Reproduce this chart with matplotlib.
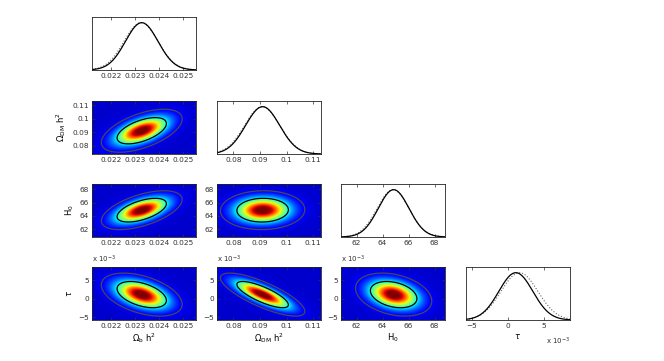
import numpy as np
import matplotlib.pyplot as plt

# parameters of the triangle plot
labels = [r'$\Omega_{\rm b}\ {\rm h}^2$', r'$\Omega_{\rm DM}\ {\rm h}^2$', r'${\rm H}_0$', r'$\tau$']
means = [0.02328, 0.0910, 64.85, 1.1]          # tau in units of 1e-3
sigmas = [0.00068, 0.0064, 1.18, 2.35]
# dotted curves (mean likelihood)
dot_means = [0.02325, 0.0908, 64.80, 1.6]
dot_sigmas = [0.00071, 0.0066, 1.22, 2.55]
corr = [[1.00, 0.55, 0.55, -0.45],
        [0.55, 1.00, 0.03, -0.78],
        [0.55, 0.03, 1.00, -0.30],
        [-0.45, -0.78, -0.30, 1.00]]
lims = [(0.0212, 0.02555), (0.0738, 0.1130), (60.8, 68.8), (-5.8, 8.6)]
ticks = [[0.022, 0.023, 0.024, 0.025],
         [0.08, 0.09, 0.1, 0.11],
         [62, 64, 66, 68],
         [-5, 0, 5]]
ticklabels = [['0.022', '0.023', '0.024', '0.025'],
              ['0.08', '0.09', '0.1', '0.11'],
              ['62', '64', '66', '68'],
              ['\u22125', '0', '5']]

# chi2 levels of 68% and 95% regions in 2D
chi2_levels = [2.30, 6.17]

W, H = 664, 361
col_left = [92, 217, 341, 466]
row_top = [17, 101, 184, 267]
aw, ah = 104, 53

plt.rcParams['font.family'] = 'DejaVu Sans'
fig = plt.figure(figsize=(W / 100, H / 100), dpi=100)

def make_axes(r, c):
    return fig.add_axes([col_left[c] / W, (H - row_top[r] - ah) / H, aw / W, ah / H])

def style(ax):
    ax.tick_params(direction='in', length=2, width=0.5, labelsize=5.3, pad=2,
                   colors='#333333', top=True, right=True)
    for s in ax.spines.values():
        s.set_linewidth(0.6)
        s.set_color('#222222')

for i in range(4):
    for j in range(i + 1):
        ax = make_axes(i, j)
        style(ax)
        if i == j:
            x = np.linspace(lims[i][0], lims[i][1], 300)
            y = np.exp(-0.5 * ((x - means[i]) / sigmas[i]) ** 2)
            yd = np.exp(-0.5 * ((x - dot_means[i]) / dot_sigmas[i]) ** 2)
            ax.plot(x, yd, ':', color='#666666', lw=0.8)
            ax.plot(x, y, '-', color='black', lw=0.9)
            ax.set_ylim(0, 1.12)
            ax.set_yticks([])
        else:
            # x variable j, y variable i
            x = np.linspace(lims[j][0], lims[j][1], 200)
            y = np.linspace(lims[i][0], lims[i][1], 200)
            X, Y = np.meshgrid(x, y)
            dx = (X - means[j]) / sigmas[j]
            dy = (Y - means[i]) / sigmas[i]
            rho = corr[i][j]
            chi2 = (dx ** 2 - 2 * rho * dx * dy + dy ** 2) / (1 - rho ** 2)
            Z = np.exp(-0.5 * chi2)
            ax.imshow(Z, origin='lower', cmap='jet', vmin=-0.07, vmax=0.93,
                      extent=[x[0], x[-1], y[0], y[-1]], aspect='auto',
                      interpolation='bilinear')
            ax.contour(X, Y, chi2, levels=[chi2_levels[0]], colors='black', linewidths=0.9)
            ax.contour(X, Y, chi2, levels=[chi2_levels[1]], colors='#4a4a4a', linewidths=0.9)
            ax.set_ylim(lims[i])
            ax.set_yticks(ticks[i])
            ax.set_yticklabels(ticklabels[i])
            if j == 0:
                ax.set_ylabel(labels[i], fontsize=6, labelpad=3)
            if i == 3:
                ax.text(0.0, 1.04, r'x 10$^{-3}$', transform=ax.transAxes,
                        fontsize=5, color='#333333', va='bottom', ha='left')
        ax.set_xlim(lims[j])
        ax.set_xticks(ticks[j])
        ax.set_xticklabels(ticklabels[j])
        if i == 3:
            ax.set_xlabel(labels[j], fontsize=6, labelpad=2)
        if i == 3 and j == 3:
            ax.text(1.0, -0.3, r'x 10$^{-3}$', transform=ax.transAxes,
                    fontsize=5, color='#333333', va='top', ha='right')

fig.savefig('out.png', dpi=100)
